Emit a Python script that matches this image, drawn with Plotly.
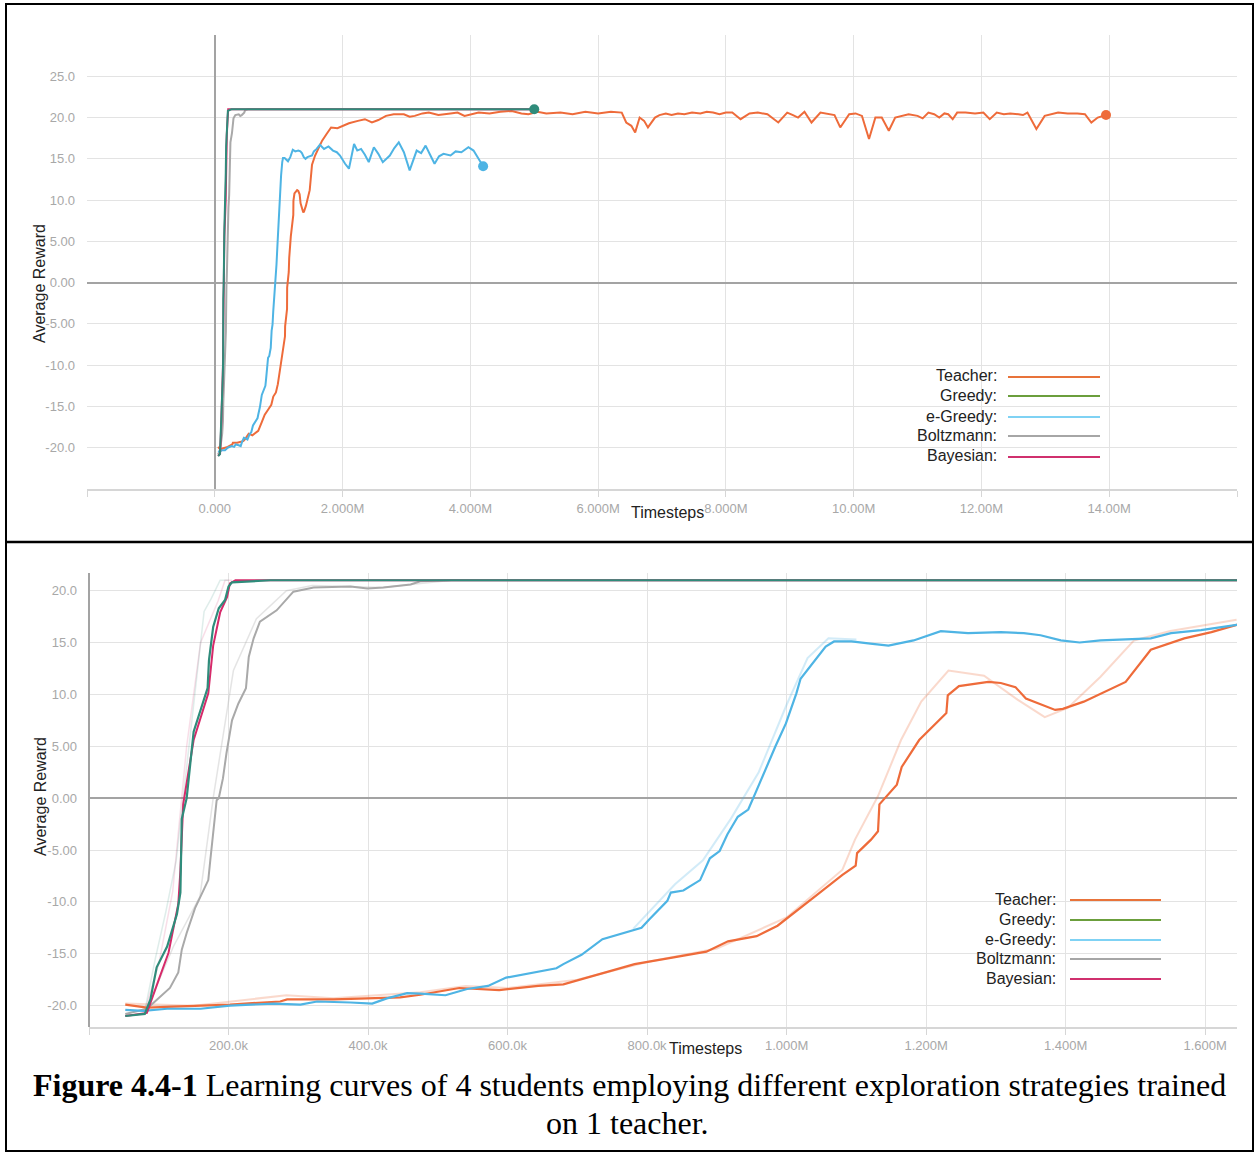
import numpy as np
import plotly.graph_objects as go

# ---------------- data (timesteps in thousands, average reward) ----------------
teacher_k = [52, 83, 121, 202, 274, 284, 351, 446, 475, 531, 588, 644, 680, 731, 782, 834, 885, 916,
             957, 987, 1018, 1044, 1080, 1099, 1101, 1121, 1131, 1133, 1158, 1165, 1190, 1229, 1231,
             1247, 1289, 1307, 1328, 1343, 1385, 1396, 1426, 1486, 1522, 1570, 1609, 1645,
             1680, 1750, 1820, 1920, 2020, 2100, 2240, 2350, 2460, 2560, 2680, 2800, 2960, 3050,
             3130, 3250, 3350, 3500, 3690, 3800, 3910, 4000, 4130, 4300, 4470, 4650, 4800, 4910,
             5050, 5190, 5410, 5600, 5800, 6000, 6200, 6370, 6440, 6520, 6580, 6650, 6720, 6780,
             6890, 6960, 7060, 7150, 7250, 7350, 7470, 7600, 7700, 7800, 7900, 8000, 8100, 8230,
             8370, 8500, 8650, 8820, 8960, 9050, 9130, 9230, 9340, 9480, 9610, 9700, 9790, 9930,
             10030, 10130, 10240, 10340, 10440, 10550, 10650, 10760, 10860, 11000, 11080, 11170,
             11260, 11340, 11420, 11480, 11550, 11620, 11750, 11900, 12030, 12130, 12240, 12350,
             12450, 12580, 12650, 12720, 12860, 12990, 13100, 13200, 13350, 13500, 13620, 13720,
             13820, 13950]
teacher_r = [-19.9, -20.2, -20.1, -19.9, -19.6, -19.4, -19.4, -19.2, -18.95, -18.3, -18.5, -18.1,
             -17.95, -17.0, -16.0, -15.4, -14.8, -13.8, -13.3, -12.3, -10.7, -9.3, -7.4, -6.5, -5.3,
             -4.0, -3.2, -0.6, 1.3, 3.0, 5.6, 8.2, 9.9, 10.8, 11.2, 11.1, 10.7, 9.6, 8.5, 8.6, 9.3,
             11.2, 14.3, 15.4, 16.0, 16.7,
             17.2, 18.0, 18.8, 18.7, 19.0, 19.3, 19.6, 19.8, 19.4, 19.7, 20.2, 20.4, 20.4, 20.1,
             20.2, 20.5, 20.6, 20.3, 20.5, 20.6, 20.2, 20.4, 20.6, 20.5, 20.7, 20.8, 20.5, 20.4,
             20.7, 20.5, 20.6, 20.4, 20.7, 20.5, 20.7, 20.6, 19.4, 19.0, 18.2, 20.0, 19.6, 18.8,
             20.0, 20.3, 20.5, 20.3, 20.5, 20.4, 20.6, 20.5, 20.7, 20.6, 20.4, 20.6, 20.6, 19.8,
             20.5, 20.6, 20.4, 19.4, 20.6, 20.3, 20.0, 20.7, 19.4, 20.6, 20.4, 20.3, 18.8, 20.4,
             20.5, 20.2, 17.4, 20.0, 20.0, 18.4, 20.0, 20.2, 20.4, 20.2, 19.9, 20.6,
             20.4, 20.0, 20.5, 20.4, 19.8, 20.6, 20.6, 20.5, 20.6, 19.8, 20.6, 20.4,
             20.5, 20.4, 20.3, 20.6, 18.6, 20.2, 20.4, 20.6, 20.5, 20.5, 20.4, 19.4,
             20.0, 20.3]

teacher_raw_k = [52, 150, 283, 350, 475, 540, 600, 700, 800, 900, 1000, 1080, 1098, 1131, 1164,
                 1193, 1232, 1283, 1331, 1370, 1403, 1450, 1498, 1550, 1645]
teacher_raw_r = [-19.8, -20.0, -19.0, -19.3, -18.7, -18.1, -18.3, -17.5, -15.8, -14.5, -11.5, -6.9,
                 -4.0, 0.2, 5.6, 9.3, 12.3, 11.8, 9.5, 7.8, 8.7, 11.7, 15.2, 16.1, 17.2]

greedy_k = [52, 80, 88, 97, 112, 126, 131, 133, 140, 150, 170, 172, 178, 186, 195, 200, 205, 230, 260, 5000]
greedy_r = [-21.0, -20.8, -19.4, -16.3, -14.3, -11.2, -9.1, -2.0, 0.0, 6.4, 10.6, 13.3, 16.5, 18.3,
            19.1, 20.4, 20.8, 20.9, 21.0, 21.0]
greedy_raw_k = [80, 95, 110, 125, 140, 155, 165, 175, 188, 200]
greedy_raw_r = [-20.5, -15.5, -11.0, -6.0, 3.0, 12.0, 18.0, 19.2, 21.0, 21.0]

egreedy_k = [52, 78, 112, 160, 202, 265, 303, 327, 375, 406, 427, 456, 475, 511, 542, 572, 598, 644,
             670, 680, 706, 736, 767, 792, 803, 829, 834, 852, 876, 890, 904, 915, 930, 945, 956, 966,
             984, 999, 1014, 1020, 1038, 1056, 1068, 1093, 1120, 1146, 1182, 1221, 1260, 1307, 1340,
             1364, 1393, 1420, 1450, 1522, 1551, 1594, 1645, 1710, 1780, 1850, 1910, 1960, 2040,
             2100, 2180, 2230, 2290, 2350, 2410, 2490, 2560, 2630, 2740, 2810, 2880, 2960, 3050,
             3160, 3230, 3300, 3370, 3440, 3510, 3580, 3690, 3770, 3860, 3970, 4050, 4110, 4200]
egreedy_r = [-20.4, -20.5, -20.3, -20.3, -20.0, -19.8, -19.9, -19.6, -19.7, -19.8, -19.3, -18.8,
             -18.85, -19.0, -18.4, -18.1, -17.3, -16.7, -16.4, -16.0, -15.1, -13.6, -13.0, -12.5,
             -11.7, -9.9, -9.1, -8.9, -7.9, -5.8, -5.1, -3.5, -1.8, -1.1, 0.6, 2.2, 5.0, 7.2, 10.1,
             11.5, 13.0, 14.6, 15.1, 15.1, 14.9, 14.7, 15.2, 16.1, 15.9, 16.0, 15.9, 15.7, 15.2, 15.0,
             15.2, 15.4, 15.9, 16.2, 16.7, 16.2, 16.5, 16.0, 15.8, 15.4, 14.4,
             13.8, 16.8, 16.0, 16.2, 15.5, 14.6, 16.4, 15.6, 14.6, 15.4, 16.3, 17.0, 15.8, 13.6,
             16.0, 15.7, 16.6, 15.5, 14.4, 15.3, 15.6, 15.4, 15.9, 15.8, 16.4, 16.0, 15.2, 14.1]
egreedy_raw_k = [780, 810, 840, 880, 920, 960, 1000, 1030, 1060, 1100]
egreedy_raw_r = [-12.6, -10.5, -8.3, -6.0, -2.0, 2.5, 9.0, 13.5, 15.4, 15.3]

boltz_k = [52, 83, 116, 128, 133, 140, 152, 171, 174, 183, 186, 192, 197, 205, 214, 225, 229, 236,
           245, 269, 293, 322, 375, 399, 422, 461, 475, 520, 5000]
boltz_r = [-20.8, -20.3, -18.3, -16.8, -14.6, -13.0, -10.6, -7.9, -5.9, -0.2, 0.0, 1.9, 4.3, 7.5, 9.1,
           10.6, 13.6, 15.4, 17.0, 18.1, 19.9, 20.3, 20.4, 20.2, 20.3, 20.6, 20.9, 21.0, 21.0]
boltz_raw_k = [85, 121, 159, 178, 207, 240, 283, 320, 420, 520]
boltz_raw_r = [-20.0, -14.3, -9.5, 0.0, 12.3, 17.3, 20.0, 20.5, 20.3, 21.0]

bayes_k = [52, 83, 100, 114, 128, 131, 135, 150, 171, 178, 188, 198, 202, 210, 5000]
bayes_r = [-21.0, -20.7, -17.5, -14.9, -10.2, -7.0, -0.6, 5.6, 10.1, 14.7, 17.9, 19.4, 20.7, 21.0, 21.0]
bayes_raw_k = [80, 100, 120, 140, 160, 175, 185, 195, 205]
bayes_raw_r = [-20.5, -16.0, -9.0, 5.0, 15.0, 17.5, 19.0, 21.0, 21.0]

legend_names = ["Teacher:", "Greedy:", "e-Greedy:", "Boltzmann:", "Bayesian:"]
top_xtick_vals = [-2, 0, 2, 4, 6, 8, 10, 12, 14, 16]          # millions
top_xtick_text = ["", "0.000", "2.000M", "4.000M", "6.000M", "8.000M", "10.00M", "12.00M", "14.00M", ""]
top_ytick_vals = [-25, -20, -15, -10, -5, 0, 5, 10, 15, 20, 25, 30]
top_ytick_text = ["", "-20.0", "-15.0", "-10.0", "-5.00", "0.00", "5.00", "10.0", "15.0", "20.0", "25.0", ""]
bot_xtick_vals = [0, 200, 400, 600, 800, 1000, 1200, 1400, 1600]  # thousands
bot_xtick_text = ["", "200.0k", "400.0k", "600.0k", "800.0k", "1.000M", "1.200M", "1.400M", "1.600M"]
bot_ytick_vals = [-20, -15, -10, -5, 0, 5, 10, 15, 20]
bot_ytick_text = ["-20.0", "-15.0", "-10.0", "-5.00", "0.00", "5.00", "10.0", "15.0", "20.0"]

# ---------------- styling ----------------
W, H = 1254, 1152
C_TEACH = "#ee6b3a"
C_GREEDY = "#2f8c7b"
C_EGR = "#4eb4e4"
C_BOLTZ = "#a9a9a9"
C_BAYES = "#d62a6a"
LEG_COLORS = ["#e8733a", "#6b9e3c", "#7fd2f4", "#a6a6a6", "#d0306e"]
GRID = "#e3e3e3"
ZERO = "#a3a3a3"
TICKC = "#a8a8a8"


def px_x(px):
    return px / W


def px_y(py):
    return 1 - py / H


def ts(k):
    return np.asarray(k, dtype=float) * 1000.0


fig = go.Figure()


def add_line(x, y, color, width, xa, ya, opacity=1.0):
    fig.add_trace(go.Scatter(x=x, y=y, mode="lines", line=dict(color=color, width=width),
                             opacity=opacity, xaxis=xa, yaxis=ya, showlegend=False,
                             hoverinfo="skip"))


# ---------- top panel ----------
add_line(ts(boltz_k), boltz_r, C_BOLTZ, 2, "x", "y")
add_line(ts(teacher_k), teacher_r, C_TEACH, 2, "x", "y")
add_line(ts(egreedy_k), egreedy_r, C_EGR, 2, "x", "y")
add_line(ts(bayes_k), bayes_r, C_BAYES, 2, "x", "y")
add_line(ts(greedy_k), greedy_r, C_GREEDY, 2, "x", "y")
for xs, ys, c in [(greedy_k, greedy_r, C_GREEDY), (egreedy_k, egreedy_r, C_EGR), (teacher_k, teacher_r, C_TEACH)]:
    fig.add_trace(go.Scatter(x=ts(xs[-1:]), y=ys[-1:], mode="markers",
                             marker=dict(color=c, size=10), xaxis="x", yaxis="y",
                             showlegend=False, hoverinfo="skip"))

# ---------- bottom panel ----------
add_line(ts(boltz_raw_k), boltz_raw_r, C_BOLTZ, 1.5, "x2", "y2", 0.3)
add_line(ts(teacher_raw_k), teacher_raw_r, C_TEACH, 2, "x2", "y2", 0.25)
add_line(ts(egreedy_raw_k), egreedy_raw_r, C_EGR, 2, "x2", "y2", 0.25)
add_line(ts(bayes_raw_k), bayes_raw_r, C_BAYES, 1.5, "x2", "y2", 0.15)
add_line(ts(greedy_raw_k), greedy_raw_r, C_GREEDY, 1.5, "x2", "y2", 0.15)
add_line(ts(boltz_k), boltz_r, C_BOLTZ, 2, "x2", "y2")
add_line(ts(teacher_k), teacher_r, C_TEACH, 2.2, "x2", "y2")
add_line(ts(egreedy_k), egreedy_r, C_EGR, 2.2, "x2", "y2")
add_line(ts(bayes_k), bayes_r, C_BAYES, 2, "x2", "y2")
add_line(ts(greedy_k), greedy_r, C_GREEDY, 2.2, "x2", "y2")

tickfont = dict(family="Liberation Sans", size=13, color=TICKC)

common_x = dict(showgrid=True, gridcolor=GRID, gridwidth=1, zeroline=True, zerolinecolor=ZERO,
                zerolinewidth=2, showline=True, linecolor="#d6d6d6", linewidth=1.5,
                ticks="outside", ticklen=6, tickcolor="#d6d6d6", tickfont=tickfont,
                tickmode="array", fixedrange=True)
common_y = dict(showgrid=True, gridcolor=GRID, gridwidth=1, zeroline=True, zerolinecolor=ZERO,
                zerolinewidth=2, showline=False, ticks="", tickfont=tickfont,
                tickmode="array", ticklabelstandoff=11, fixedrange=True)

fig.update_layout(
    width=W, height=H, margin=dict(l=0, r=0, t=0, b=0),
    paper_bgcolor="white", plot_bgcolor="white",
    xaxis=dict(common_x, domain=[px_x(87), px_x(1237)], range=[-2e6, 16e6],
               tickvals=[v * 1e6 for v in top_xtick_vals], ticktext=top_xtick_text,
               anchor="y", ticklabelstandoff=1),
    yaxis=dict(common_y, domain=[px_y(489), px_y(35)], range=[-25, 30],
               tickvals=top_ytick_vals, ticktext=top_ytick_text, anchor="x"),
    xaxis2=dict(common_x, domain=[px_x(89), px_x(1237)], range=[0, 1645600],
                tickvals=[v * 1e3 for v in bot_xtick_vals], ticktext=bot_xtick_text,
                anchor="y2", ticklabelstandoff=0),
    yaxis2=dict(common_y, domain=[px_y(1027), px_y(573)], range=[-22.06, 21.7],
                tickvals=bot_ytick_vals, ticktext=bot_ytick_text, anchor="x2"),
    showlegend=False,
)

annotations = []
shapes = []
lab_font = dict(family="Liberation Sans", size=16, color="#222222")

# axis titles
annotations += [
    dict(text="Average Reward", x=px_x(39), y=px_y(284), textangle=-90, showarrow=False,
         xref="paper", yref="paper", font=lab_font, xanchor="center", yanchor="middle"),
    dict(text="Timesteps", x=px_x(667), y=px_y(512), showarrow=False,
         xref="paper", yref="paper", font=lab_font, xanchor="center", yanchor="middle"),
    dict(text="Average Reward", x=px_x(40), y=px_y(797), textangle=-90, showarrow=False,
         xref="paper", yref="paper", font=lab_font, xanchor="center", yanchor="middle"),
    dict(text="Timesteps", x=px_x(705), y=px_y(1048), showarrow=False,
         xref="paper", yref="paper", font=lab_font, xanchor="center", yanchor="middle"),
]


# custom legends
def add_legend(text_right, line_x0, line_x1, rows):
    for name, col, ry in zip(legend_names, LEG_COLORS, rows):
        annotations.append(dict(text=name, x=px_x(text_right), y=px_y(ry), showarrow=False,
                                xref="paper", yref="paper", xanchor="right", yanchor="middle",
                                font=lab_font))
        shapes.append(dict(type="line", xref="paper", yref="paper", x0=px_x(line_x0),
                           x1=px_x(line_x1), y0=px_y(ry + 1), y1=px_y(ry + 1),
                           line=dict(color=col, width=2)))


add_legend(999, 1008, 1100, [376, 395, 416, 435, 456])
add_legend(1058, 1070, 1161, [899, 919, 939, 958, 978])

# caption
cap_font = dict(family="Liberation Serif", size=32, color="black")
annotations += [
    dict(text="<b>Figure 4.4-1</b> Learning curves of 4 students employing different exploration strategies trained",
         x=px_x(629), y=px_y(1085), showarrow=False, xref="paper", yref="paper",
         xanchor="center", yanchor="middle", font=cap_font),
    dict(text="on 1 teacher.", x=px_x(627), y=px_y(1123), showarrow=False, xref="paper",
         yref="paper", xanchor="center", yanchor="middle", font=cap_font),
]

# frame
shapes += [
    dict(type="rect", xref="paper", yref="paper", x0=px_x(6), x1=px_x(1253), y0=px_y(1151), y1=px_y(4),
         line=dict(color="black", width=2), layer="above"),
    dict(type="line", xref="paper", yref="paper", x0=px_x(6), x1=px_x(1253), y0=px_y(542), y1=px_y(542),
         line=dict(color="black", width=2.5), layer="above"),
]

fig.update_layout(annotations=annotations, shapes=shapes)
fig.write_html("out.html")
